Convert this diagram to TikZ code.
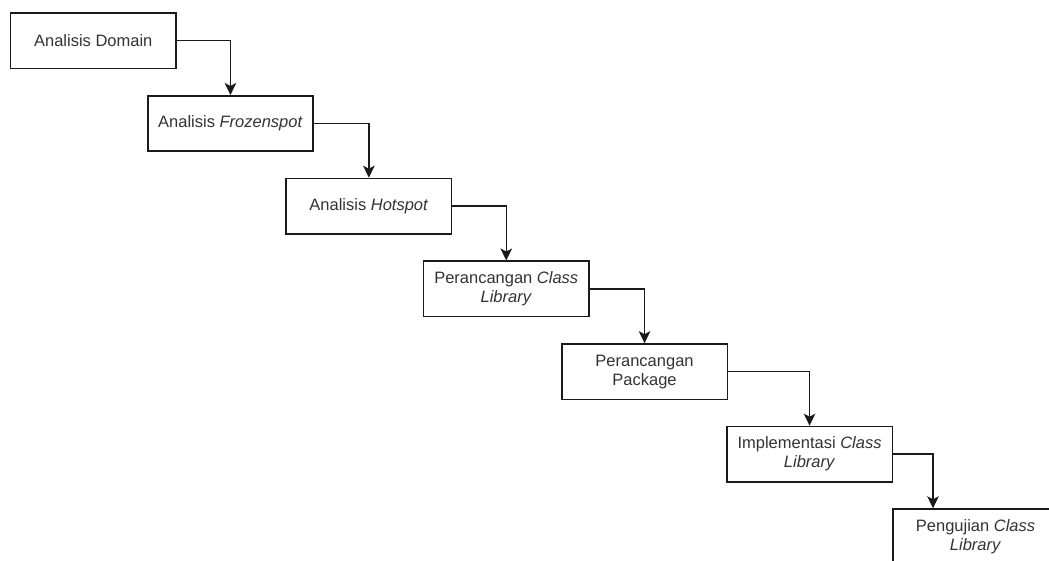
\documentclass[tikz,border=0pt]{standalone}
\usepackage{fontspec}
\setmainfont{Liberation Sans}
\usetikzlibrary{arrows.meta}
\definecolor{txt}{HTML}{333333}
\definecolor{ln}{HTML}{1A1A1A}
\tikzset{
  stepbox/.style={draw=ln, line width=1.6bp, minimum width=165.5bp, minimum height=55.3bp,
    inner sep=0pt, align=center, text=txt, anchor=north west,
    font=\fontsize{16.5bp}{19bp}\selectfont},
  flow/.style={draw=ln, line width=1.5bp, -{Stealth[length=12bp,width=11.5bp,inset=3bp]}},
}
\begin{document}
\begin{tikzpicture}[x=1bp,y=-1bp]
\path[use as bounding box] (0,0) rectangle (1049,561);
\clip (0,0) rectangle (1049,561);
\fill[white] (0,0) rectangle (1049,561);
\node[stepbox] (a) at (9.7,12.3) {Analisis Domain};
\node[stepbox] (b) at (146.9,95) {Analisis \textit{Frozenspot}};
\node[stepbox] (c) at (285.3,177.7) {Analisis \textit{Hotspot}};
\node[stepbox] (d) at (422.7,260.5) {Perancangan \textit{Class}\\\textit{Library}};
\node[stepbox] (e) at (561,343.2) {Perancangan\\Package};
\node[stepbox] (f) at (726,425.7) {Implementasi \textit{Class}\\\textit{Library}};
\node[stepbox] (g) at (892,508.3) {Pengujian \textit{Class}\\\textit{Library}};
\coordinate (gin) at (933,508.3);
\draw[flow] (a.east) -| (b.north);
\draw[flow] (b.east) -| (c.north);
\draw[flow] (c.east) -| (d.north);
\draw[flow] (d.east) -| (e.north);
\draw[flow] (e.east) -| (f.north);
\draw[flow] (f.east) -| (gin);
\end{tikzpicture}
\end{document}
